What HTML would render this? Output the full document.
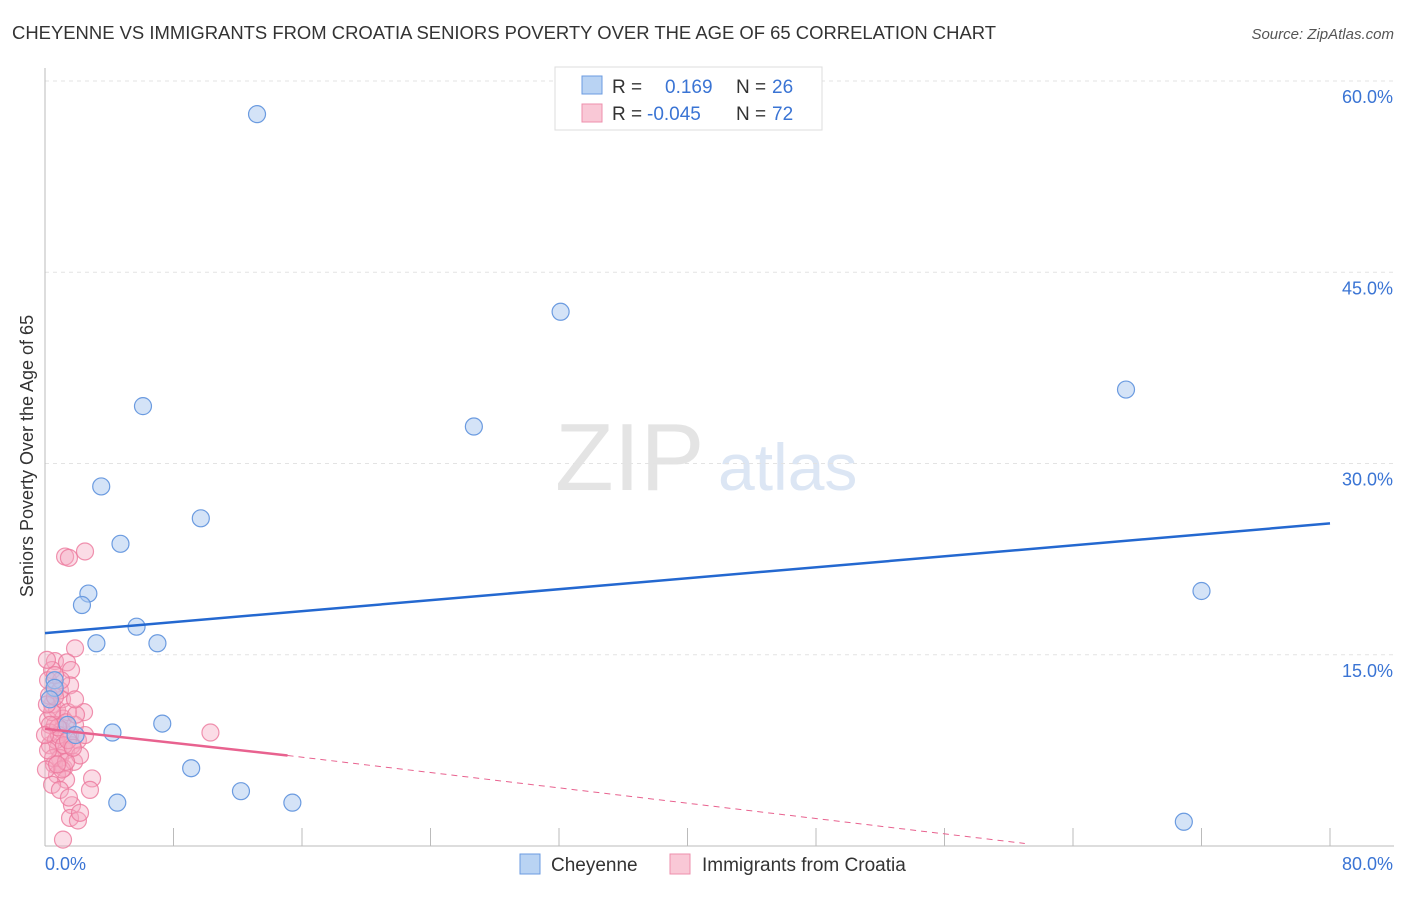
<!DOCTYPE html>
<html><head><meta charset="utf-8"><style>
body{margin:0;background:#fff;font-family:"Liberation Sans",sans-serif;}
svg text{font-family:"Liberation Sans",sans-serif;}
</style></head><body>
<svg id="c" width="1406" height="892">
<text x="12" y="39" font-size="18" fill="#333" textLength="984" lengthAdjust="spacingAndGlyphs">CHEYENNE VS IMMIGRANTS FROM CROATIA SENIORS POVERTY OVER THE AGE OF 65 CORRELATION CHART</text>
<text x="1394" y="39" font-size="15" fill="#555" font-style="italic" text-anchor="end">Source: ZipAtlas.com</text>
<text transform="translate(33,456) rotate(-90)" font-size="18" fill="#333" text-anchor="middle">Seniors Poverty Over the Age of 65</text>
<text x="555" y="490" font-size="96" fill="#e4e4e4" font-family="Liberation Serif">ZIP</text>
<text x="718" y="490" font-size="66" fill="#dce6f4">atlas</text>
<g id="grid"></g><g id="pts"></g><g id="lines"></g>
<g>
<rect x="555" y="67" width="267" height="63" fill="#fff" stroke="#ddd"/>
<rect x="582" y="76" width="20" height="18" fill="#b9d3f3" stroke="#6b9be0"/>
<rect x="582" y="104" width="20" height="18" fill="#f9c8d6" stroke="#ee8fac"/>
<text x="612" y="93" font-size="19" fill="#333">R = </text><text x="665" y="93" font-size="19" fill="#3a74d4">0.169</text>
<text x="736" y="93" font-size="19" fill="#333">N = </text><text x="772" y="93" font-size="19" fill="#3a74d4">26</text>
<text x="612" y="120" font-size="19" fill="#333">R = </text><text x="647" y="120" font-size="19" fill="#3a74d4">-0.045</text>
<text x="736" y="120" font-size="19" fill="#333">N = </text><text x="772" y="120" font-size="19" fill="#3a74d4">72</text>
</g>
<g>
<rect x="520" y="854" width="20" height="20" fill="#b9d3f3" stroke="#6b9be0"/>
<text x="551" y="871" font-size="19" fill="#333">Cheyenne</text>
<rect x="670" y="854" width="20" height="20" fill="#f9c8d6" stroke="#ee8fac"/>
<text x="702" y="871" font-size="19" fill="#333">Immigrants from Croatia</text>
</g>
</svg>
<script>
const xTicks=[0,80];
const yTicks=[15,30,45,60];
const blueX=[13.2,32.1,6.1,26.7,67.3,3.5,9.7,4.7,2.7,2.3,5.7,3.2,7.0,0.6,0.6,1.4,4.2,7.3,9.1,12.2,4.5,15.4,72.0,70.9,1.9,0.3];
const blueY=[57.4,41.9,34.5,32.9,35.8,28.2,25.7,23.7,19.8,18.9,17.2,15.9,15.9,13.0,12.4,9.5,8.9,9.6,6.1,4.3,3.4,3.4,20.0,1.9,8.7,11.5];
const pinkX=[1.25,1.49,2.49,1.87,0.62,1.37,1.62,0.44,0.19,0.62,0.44,0.75,1.12,0.19,0.62,1.06,1.56,2.05,0.31,0.81,1.31,1.68,0.93,0.56,1.18,1.81,2.18,0.75,1.31,0.44,0.93,2.93,2.8,1.68,1.56,2.05,1.12,2.43,10.3,0.25,1.06,1.43,1.87,2.49,0.31,0.68,1.31,0.87,0.5,1.06,0.06,0.44,0.93,1.56,0.12,1.18,1.93,0.81,1.43,0.19,0.62,1.31,1.74,0.31,0.75,1.0,1.87,0.62,0,1.49,2.18,0.12];
const pinkY=[22.7,22.6,23.1,15.5,14.5,14.4,13.8,13.8,13.0,12.2,11.1,10.7,10.0,9.9,9.5,9.1,8.7,8.3,7.9,7.7,7.5,7.9,6.9,6.4,6.1,6.6,7.1,5.6,5.2,4.8,4.4,5.3,4.4,3.2,2.2,2.0,0.5,10.5,8.9,11.8,11.5,10.5,9.5,8.7,8.9,8.3,9.7,8.7,6.9,6.0,6.0,10.5,12.2,12.6,11.1,7.9,10.3,9.3,8.3,7.5,11.7,6.6,7.7,9.5,6.4,13.0,11.5,13.4,8.7,3.8,2.6,14.6];
const blueTrend=[[0,16.7],[80,25.3]];
const pinkSolid=[[0,9.2],[15.1,7.1]];
const pinkDash=[[15.1,7.1],[61,0.2]];
const X=v=>45+v*1285/80, Y=v=>846-v*12.75;
const NS='http://www.w3.org/2000/svg';
function mk(t,a,p){const e=document.createElementNS(NS,t);for(const k in a)e.setAttribute(k,a[k]);p.appendChild(e);return e;}
const grid=document.getElementById('grid');
mk('line',{x1:45,y1:81,x2:1394,y2:81,stroke:'#e3e3e3','stroke-dasharray':'4,4'},grid);
yTicks.forEach(t=>{
 const l=mk('line',{x1:45,y1:Y(t),x2:1394,y2:Y(t),stroke:'#e3e3e3','stroke-dasharray':'4,4'},grid);
 
 
 const tx=mk('text',{x:1393,y:Y(t)+22,'font-size':18,fill:'#3a74d4','text-anchor':'end'},grid);tx.textContent=t.toFixed(1)+'%';
 
 
});
mk('line',{x1:45,y1:68,x2:45,y2:846,stroke:'#bbb'},grid);
mk('line',{x1:45,y1:846,x2:1394,y2:846,stroke:'#bbb'},grid);
for(let i=1;i<=10;i++){mk('line',{x1:X(i*8),y1:828,x2:X(i*8),y2:846,stroke:'#bbb'},grid);}
xTicks.forEach((t,i)=>{
 const tx=mk('text',{x:i?1393:45,y:870,'font-size':18,fill:'#3a74d4','text-anchor':i?'end':'start'},grid);tx.textContent=t.toFixed(1)+'%';
 
 
});
const pts=document.getElementById('pts');
pinkX.forEach((x,i)=>{
 const c=mk('circle',{cx:X(x),cy:Y(pinkY[i]),r:8.5,fill:'rgba(246,168,192,0.4)',stroke:'rgba(236,120,156,0.8)','stroke-width':1.2},pts);
 
 
});
blueX.forEach((x,i)=>{
 const c=mk('circle',{cx:X(x),cy:Y(blueY[i]),r:8.5,fill:'rgba(170,200,240,0.5)',stroke:'#6b9be0','stroke-width':1.2},pts);
 
 
});
const ln=document.getElementById('lines');
function seg(p,col,w,dash,name){const l=mk('line',{x1:X(p[0][0]),y1:Y(p[0][1]),x2:X(p[1][0]),y2:Y(p[1][1]),stroke:col,'stroke-width':w},ln);if(dash)l.setAttribute('stroke-dasharray',dash);
 
 }
seg(blueTrend,'#2468d0',2.5,null,'cheyenne-trendline');
seg(pinkSolid,'#e8628f',2.5,null,'croatia-trendline');
seg(pinkDash,'#e8628f',1,'6,5','croatia-trendline-extension');
</script>
</body></html>
